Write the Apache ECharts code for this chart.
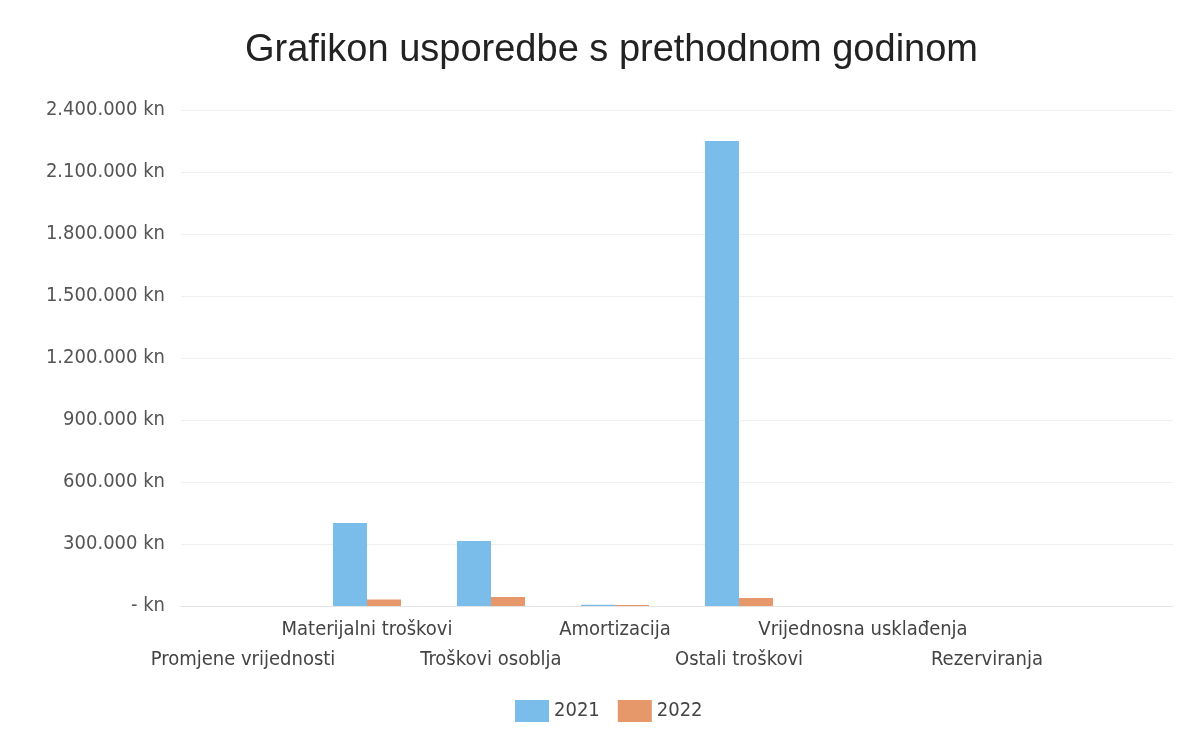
<!DOCTYPE html>
<html>
<head>
<meta charset="utf-8">
<script src="https://cdn.jsdelivr.net/npm/echarts@6/dist/echarts.min.js"></script>
<style>
  html, body { margin: 0; padding: 0; background: #fff; }
  #chart { width: 1186px; height: 749px; }
</style>
</head>
<body>
<div id="chart"></div>
<script>
// kategorije troškova (zadnja je prazna, kao u originalu)
const categories = ['Promjene vrijednosti', 'Materijalni troškovi', 'Troškovi osoblja', 'Amortizacija',
  'Ostali troškovi', 'Vrijednosna usklađenja', 'Rezerviranja', '']
const values2021 = [0, 402000, 315000, 6000, 2250000, 0, 0, null]
const values2022 = [0, 32000, 44000, 5000, 39000, 0, 0, null]
const seriesNames = ['2021', '2022']

function fmtKn (v) {
  if (v === 0) return '- kn'
  return String(v).replace(/\B(?=(\d{3})+(?!\d))/g, '.') + ' kn'
}

const chart = echarts.init(document.getElementById('chart'))
chart.setOption({
  backgroundColor: '#fff',
  animation: false,
  title: {
    text: 'Grafikon usporedbe s prethodnom godinom',
    left: 240,
    top: 27,
    textStyle: { fontFamily: 'Liberation Sans', fontSize: 38, fontWeight: 'normal', color: '#222' }
  },
  legend: {
    data: seriesNames,
    bottom: 22,
    left: 510,
    icon: 'rect',
    itemWidth: 34,
    itemHeight: 22,
    itemGap: 18,
    textStyle: { fontFamily: 'DejaVu Sans Condensed', fontSize: 20, color: '#444' }
  },
  grid: { left: 181, right: 13, top: 110, bottom: 143 },
  xAxis: {
    type: 'category',
    data: categories,
    axisTick: { show: false },
    axisLine: { lineStyle: { color: '#e4e4e4' } },
    axisLabel: {
      interval: 0,
      margin: 9,
      lineHeight: 30,
      fontFamily: 'DejaVu Sans Condensed',
      fontSize: 20,
      color: '#444',
      formatter: (name, i) => (i % 2 === 0 ? '\n' + name : name)
    }
  },
  yAxis: {
    type: 'value',
    min: 0,
    max: 2400000,
    interval: 300000,
    axisLine: { show: false },
    axisTick: { show: false },
    splitLine: { lineStyle: { color: '#f0f0f0' } },
    axisLabel: {
      margin: 16,
      fontFamily: 'DejaVu Sans Condensed',
      fontSize: 20,
      color: '#555',
      formatter: fmtKn
    }
  },
  series: [
    {
      name: seriesNames[0],
      type: 'bar',
      data: values2021,
      barWidth: 34,
      barGap: '0%',
      itemStyle: { color: '#7bbdea' }
    },
    {
      name: seriesNames[1],
      type: 'bar',
      data: values2022,
      barWidth: 34,
      itemStyle: { color: '#e6986b' }
    }
  ]
})
</script>
</body>
</html>
